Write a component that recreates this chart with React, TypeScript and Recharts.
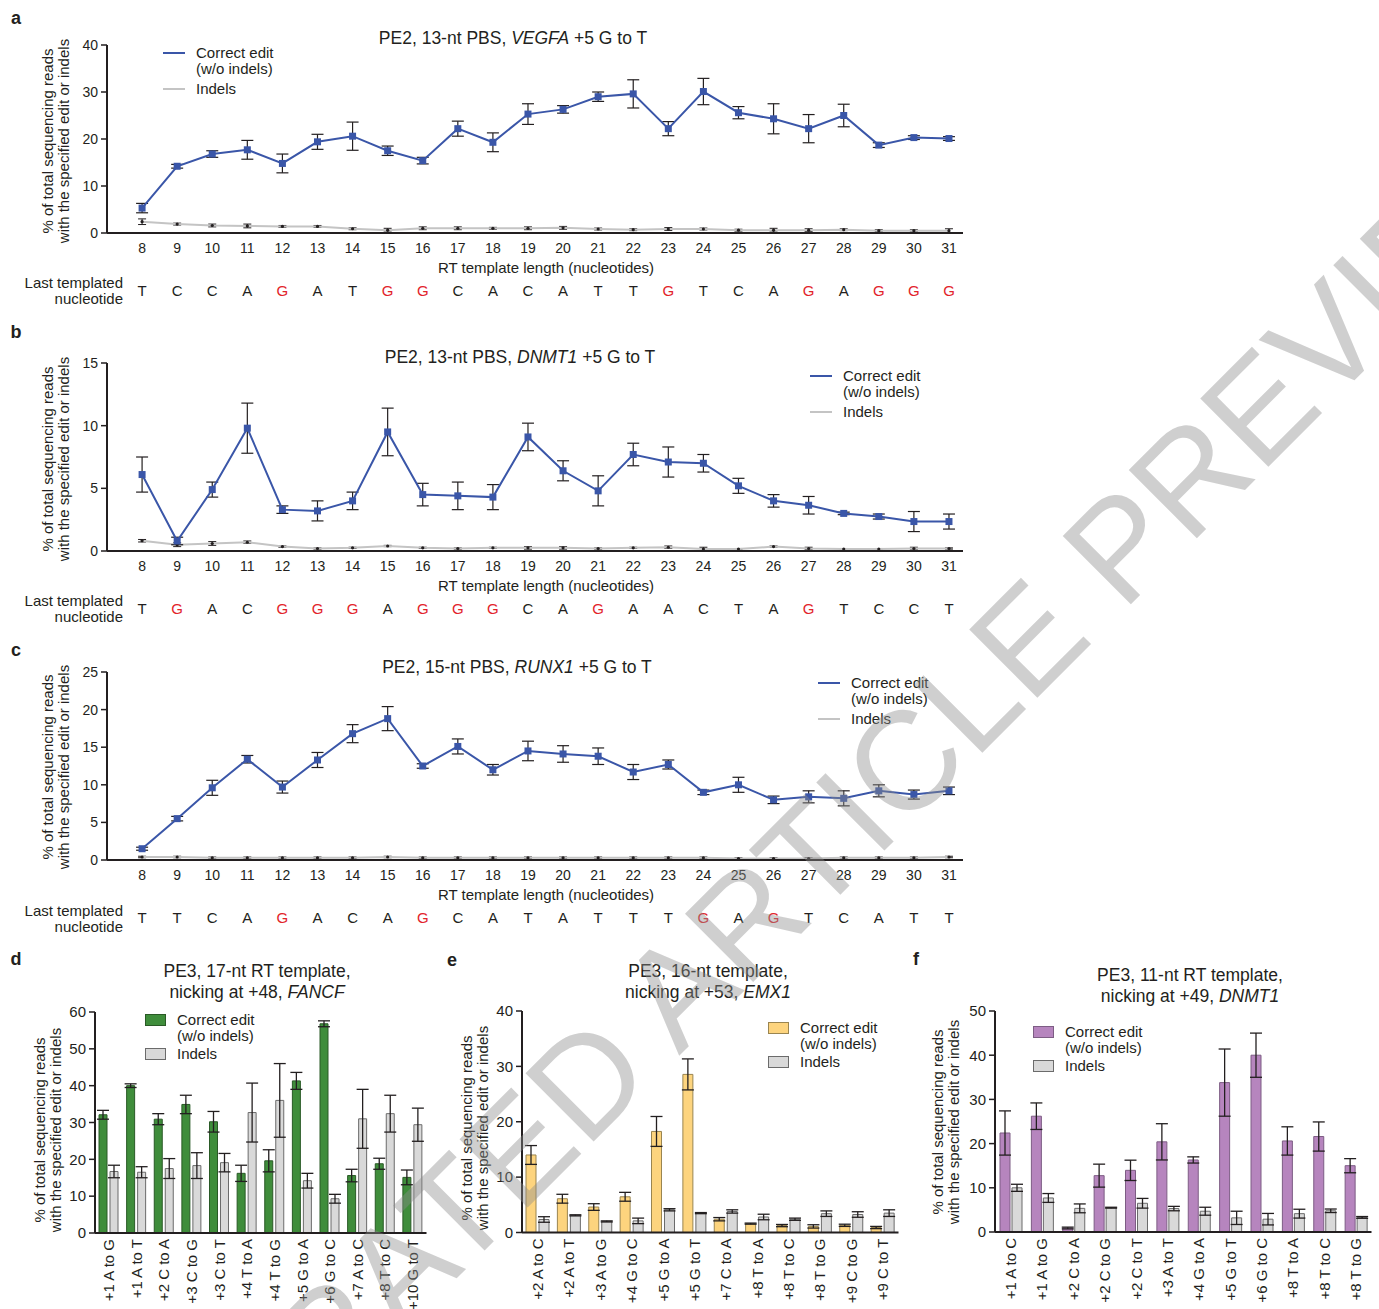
import React from "react"
import { LineChart, Line, XAxis, YAxis, ErrorBar, BarChart, Bar } from "recharts"

const FONT = '"Liberation Sans", Arial, Helvetica, sans-serif'
const INK = "#231f20"
const RED = "#e2232a"
const BLUE = "#3a56a8"
const LIGHT = "#c4c4c4"
const GREY_FILL = "#d9d9d9"
const GREY_EDGE = "#6b6b6b"

// panels a-c share the x axis
const rtLength = [8, 9, 10, 11, 12, 13, 14, 15, 16, 17, 18, 19, 20, 21, 22, 23, 24, 25, 26, 27, 28, 29, 30, 31]

// a: VEGFA
const vegfaEdit = [5.3, 14.2, 16.8, 17.7, 14.8, 19.4, 20.6, 17.5, 15.4, 22.2, 19.3, 25.3, 26.3, 29.0, 29.6, 22.2, 30.1, 25.6, 24.3, 22.2, 25.0, 18.7, 20.3, 20.1]
const vegfaEditSd = [1.0, 0.4, 0.7, 2.0, 2.0, 1.6, 3.0, 1.0, 0.7, 1.6, 2.0, 2.2, 0.8, 1.0, 3.0, 1.5, 2.8, 1.3, 3.2, 3.0, 2.4, 0.5, 0.4, 0.4]
const vegfaIndel = [2.4, 1.9, 1.6, 1.5, 1.4, 1.4, 0.9, 0.6, 1.0, 1.0, 1.0, 1.0, 1.1, 0.85, 0.7, 0.85, 0.85, 0.6, 0.6, 0.6, 0.7, 0.5, 0.5, 0.5]
const vegfaIndelSd = [0.6, 0.2, 0.3, 0.4, 0.2, 0.2, 0.2, 0.4, 0.3, 0.3, 0.2, 0.3, 0.3, 0.2, 0.2, 0.3, 0.2, 0.2, 0.4, 0.3, 0.2, 0.2, 0.2, 0.4]
const vegfaNt = ["T", "C", "C", "A", "G", "A", "T", "G", "G", "C", "A", "C", "A", "T", "T", "G", "T", "C", "A", "G", "A", "G", "G", "G"]

// b: DNMT1
const dnmt1Edit = [6.1, 0.8, 4.9, 9.8, 3.3, 3.2, 4.0, 9.5, 4.5, 4.4, 4.3, 9.1, 6.4, 4.8, 7.7, 7.1, 7.0, 5.2, 4.0, 3.65, 3.0, 2.75, 2.35, 2.35]
const dnmt1EditSd = [1.4, 0.3, 0.6, 2.0, 0.3, 0.8, 0.7, 1.9, 0.9, 1.1, 1.0, 1.1, 0.8, 1.2, 0.9, 1.2, 0.7, 0.6, 0.5, 0.7, 0.1, 0.2, 0.8, 0.6]
const dnmt1Indel = [0.82, 0.5, 0.6, 0.7, 0.35, 0.2, 0.25, 0.4, 0.25, 0.2, 0.25, 0.25, 0.25, 0.2, 0.25, 0.3, 0.15, 0.15, 0.35, 0.2, 0.15, 0.15, 0.2, 0.2]
const dnmt1IndelSd = [0.1, 0.15, 0.15, 0.1, 0.05, 0.05, 0.05, 0.05, 0.05, 0.05, 0.05, 0.1, 0.1, 0.05, 0.05, 0.1, 0.15, 0.05, 0.05, 0.1, 0.05, 0.05, 0.1, 0.05]
const dnmt1Nt = ["T", "G", "A", "C", "G", "G", "G", "A", "G", "G", "G", "C", "A", "G", "A", "A", "C", "T", "A", "G", "T", "C", "C", "T"]

// c: RUNX1
const runx1Edit = [1.5, 5.5, 9.6, 13.4, 9.7, 13.3, 16.8, 18.8, 12.5, 15.1, 12.0, 14.5, 14.1, 13.8, 11.7, 12.7, 9.0, 10.0, 8.0, 8.4, 8.2, 9.2, 8.7, 9.2]
const runx1EditSd = [0.2, 0.3, 1.0, 0.5, 0.8, 1.0, 1.2, 1.6, 0.3, 1.0, 0.7, 1.3, 1.1, 1.1, 1.0, 0.6, 0.3, 1.0, 0.5, 0.8, 1.0, 0.8, 0.6, 0.5]
const runx1Indel = [0.4, 0.4, 0.3, 0.3, 0.3, 0.3, 0.3, 0.4, 0.3, 0.3, 0.3, 0.3, 0.3, 0.3, 0.3, 0.3, 0.3, 0.2, 0.2, 0.2, 0.3, 0.3, 0.3, 0.4]
const runx1IndelSd = [0.1, 0.1, 0.1, 0.1, 0.1, 0.1, 0.1, 0.1, 0.1, 0.1, 0.1, 0.1, 0.1, 0.1, 0.1, 0.1, 0.1, 0.1, 0.1, 0.1, 0.1, 0.1, 0.1, 0.1]
const runx1Nt = ["T", "T", "C", "A", "G", "A", "C", "A", "G", "C", "A", "T", "A", "T", "T", "T", "G", "A", "G", "T", "C", "A", "T", "T"]

// d: FANCF
const fancfCats = ["+1 A to G", "+1 A to T", "+2 C to A", "+3 C to G", "+3 C to T", "+4 T to A", "+4 T to G", "+5 G to A", "+6 G to C", "+7 A to C", "+8 T to C", "+10 G to T"]
const fancfEdit = [32.1, 40.0, 30.9, 34.9, 30.2, 16.2, 19.6, 41.3, 56.8, 15.6, 18.8, 15.1]
const fancfEditSd = [1.2, 0.5, 1.5, 2.5, 2.8, 2.2, 3.0, 2.3, 0.8, 1.7, 1.5, 2.0]
const fancfIndel = [16.7, 16.5, 17.5, 18.3, 19.1, 32.7, 36.0, 14.2, 9.3, 31.0, 32.4, 29.4]
const fancfIndelSd = [1.7, 1.5, 2.7, 3.5, 2.5, 8.0, 10.0, 2.0, 1.2, 8.0, 5.0, 4.5]

// e: EMX1
const emx1Cats = ["+2 A to C", "+2 A to T", "+3 A to G", "+4 G to C", "+5 G to A", "+5 G to T", "+7 C to A", "+8 T to A", "+8 T to C", "+8 T to G", "+9 C to G", "+9 C to T"]
const emx1Edit = [14.0, 6.1, 4.6, 6.45, 18.25, 28.55, 2.4, 1.6, 1.25, 1.1, 1.3, 0.9]
const emx1EditSd = [1.7, 0.8, 0.6, 0.8, 2.7, 2.8, 0.3, 0.1, 0.2, 0.3, 0.2, 0.2]
const emx1Indel = [2.35, 3.1, 2.0, 2.1, 4.1, 3.5, 3.8, 2.8, 2.4, 3.4, 3.25, 3.5]
const emx1IndelSd = [0.5, 0.1, 0.1, 0.5, 0.2, 0.1, 0.3, 0.5, 0.2, 0.5, 0.5, 0.6]

// f: DNMT1 PE3
const dnmt1bCats = ["+1 A to C", "+1 A to G", "+2 C to A", "+2 C to G", "+2 C to T", "+3 A to T", "+4 G to A", "+5 G to T", "+6 G to C", "+8 T to A", "+8 T to C", "+8 T to G"]
const dnmt1bEdit = [22.4, 26.2, 0.9, 12.75, 13.95, 20.4, 16.3, 33.8, 40.0, 20.6, 21.6, 15.0]
const dnmt1bEditSd = [5.0, 3.0, 0.2, 2.6, 2.3, 4.1, 0.7, 7.6, 5.0, 3.2, 3.3, 1.6]
const dnmt1bIndel = [10.0, 7.7, 5.35, 5.5, 6.5, 5.3, 4.7, 3.2, 2.9, 4.15, 4.8, 3.3]
const dnmt1bIndelSd = [0.8, 1.0, 1.0, 0.1, 1.1, 0.5, 0.9, 1.5, 1.3, 1.0, 0.4, 0.2]

const abs = (left: number, top: number): React.CSSProperties => ({ position: "absolute", left, top })

function Centered({ x, y, size = 15, lh, bold, children }: any) {
  return (
    <div style={{ ...abs(x, y), transform: "translate(-50%,-50%)", fontSize: size, lineHeight: lh ? `${lh}px` : "normal", fontWeight: bold ? 700 : 400, whiteSpace: "nowrap", textAlign: "center", color: INK }}>
      {children}
    </div>
  )
}

function YTitle({ x, y }: { x: number; y: number }) {
  return (
    <div style={{ ...abs(x, y), transform: "translate(-50%,-50%) rotate(-90deg)", fontSize: 15, lineHeight: "16px", whiteSpace: "nowrap", textAlign: "center", color: INK }}>
      % of total sequencing reads
      <br />
      with the specified edit or indels
    </div>
  )
}

function LineLegend({ x, y }: { x: number; y: number }) {
  const row = (top: number, text: string, color?: string) => (
    <div style={{ ...abs(0, top - 9), height: 18, lineHeight: "18px", fontSize: 15, whiteSpace: "nowrap", color: INK }}>
      {color && <span style={{ position: "absolute", left: 0, top: 8, width: 22, height: 2, background: color }} />}
      <span style={{ position: "absolute", left: 33 }}>{text}</span>
    </div>
  )
  return (
    <div style={{ ...abs(x, y) }}>
      {row(0, "Correct edit", BLUE)}
      {row(16, "(w/o indels)")}
      {row(36, "Indels", LIGHT)}
    </div>
  )
}

function BarLegend({ x, y, fill, edge }: { x: number; y: number; fill: string; edge: string }) {
  const sw = (top: number, f: string, e: string) => (
    <div style={{ ...abs(0, top - 6), width: 19, height: 10, background: f, border: `1px solid ${e}` }} />
  )
  const tx = (top: number, text: string) => (
    <div style={{ ...abs(32, top - 9), lineHeight: "18px", fontSize: 15, whiteSpace: "nowrap", color: INK }}>{text}</div>
  )
  return (
    <div style={{ ...abs(x, y) }}>
      {sw(0, fill, edge)}
      {tx(0, "Correct edit")}
      {tx(16, "(w/o indels)")}
      {sw(34, GREY_FILL, GREY_EDGE)}
      {tx(34, "Indels")}
    </div>
  )
}

function NtTick(props: any) {
  const { x, y, payload, nt } = props
  const letter = nt[rtLength.indexOf(payload.value)] ?? ""
  return (
    <text x={x} y={y} dy="0.71em" textAnchor="middle" fontSize={15} fill={letter === "G" ? RED : INK}>
      {letter}
    </text>
  )
}

function RotTick(props: any) {
  const { x, y, payload } = props
  return (
    <text x={x} y={y} dy="0.36em" textAnchor="end" fontSize={15} fill={INK} transform={`rotate(-90 ${x} ${y})`}>
      {payload.value}
    </text>
  )
}

const squareDot = (props: any) => {
  const { cx, cy, index } = props
  if (cx == null || cy == null) return <g key={`s${index}`} />
  return <rect key={`s${index}`} x={cx - 3.5} y={cy - 3.5} width={7} height={7} fill={BLUE} />
}

const tinyDot = (props: any) => {
  const { cx, cy, index } = props
  if (cx == null || cy == null) return <g key={`t${index}`} />
  return <circle key={`t${index}`} cx={cx} cy={cy} r={1.6} fill={INK} />
}

function LinePanel(p: any) {
  const data = rtLength.map((x, i) => ({ x, edit: p.edit[i], editSd: p.editSd[i], indel: p.indel[i], indelSd: p.indelSd[i] }))
  const plotL = 107
  const plotR = 963
  const plotH = 188
  const mt = 12
  const ml = 10
  const yw = 40
  const left = plotL - yw - ml
  return (
    <div style={abs(left, p.top - mt)}>
      <LineChart width={plotR - left + 4} height={mt + plotH + 45 + 25 + 2} data={data} margin={{ top: mt, right: 4, bottom: 2, left: ml }}>
        <XAxis
          dataKey="x"
          type="number"
          domain={[7, 31.4]}
          ticks={rtLength}
          allowDataOverflow
          height={45}
          tickSize={0}
          tickMargin={10}
          tickLine={false}
          axisLine={{ stroke: INK, strokeWidth: 2 }}
          tick={{ fontSize: 14, fill: INK }}
          label={{ value: "RT template length (nucleotides)", position: "insideBottom", offset: 5, dx: 11, fontSize: 15, fill: INK }}
        />
        <XAxis
          xAxisId="nt"
          dataKey="x"
          type="number"
          domain={[7, 31.4]}
          ticks={rtLength}
          allowDataOverflow
          height={25}
          tickSize={0}
          tickMargin={7}
          tickLine={false}
          axisLine={false}
          tick={<NtTick nt={p.nt} />}
        />
        <YAxis
          width={yw}
          domain={[0, p.yMax]}
          ticks={p.yTicks}
          allowDataOverflow
          tickSize={6}
          tickMargin={3}
          axisLine={{ stroke: INK, strokeWidth: 2 }}
          tickLine={{ stroke: INK, strokeWidth: 1.5 }}
          tick={{ fontSize: 14, fill: INK }}
        />
        <Line dataKey="indel" stroke={LIGHT} strokeWidth={2} dot={tinyDot} isAnimationActive={false}>
          <ErrorBar dataKey="indelSd" width={4} stroke={INK} strokeWidth={1} />
        </Line>
        <Line dataKey="edit" stroke={BLUE} strokeWidth={2} dot={squareDot} isAnimationActive={false}>
          <ErrorBar dataKey="editSd" width={6} stroke={INK} strokeWidth={1.2} />
        </Line>
      </LineChart>
    </div>
  )
}

function BarPanel(p: any) {
  const data = p.cats.map((c: string, i: number) => ({ c, edit: p.edit[i], editSd: p.editSd[i], indel: p.indel[i], indelSd: p.indelSd[i] }))
  const mt = 12
  const ml = 6
  const yw = 40
  const xh = 78
  const left = p.plotL - yw - ml
  return (
    <div style={abs(left, p.plotT - mt)}>
      <BarChart
        width={p.plotR - left + 2}
        height={mt + (p.plotB - p.plotT) + xh}
        data={data}
        margin={{ top: mt, right: 2, bottom: 0, left: ml }}
        barGap={p.barGap}
      >
        <XAxis dataKey="c" interval={0} height={xh} tickSize={0} tickMargin={6} tickLine={false} axisLine={{ stroke: INK, strokeWidth: 2 }} tick={<RotTick />} />
        <YAxis
          width={yw}
          domain={[0, p.yMax]}
          ticks={p.yTicks}
          allowDataOverflow
          tickSize={6}
          tickMargin={3}
          axisLine={{ stroke: INK, strokeWidth: 2 }}
          tickLine={{ stroke: INK, strokeWidth: 1.5 }}
          tick={{ fontSize: 15, fill: INK }}
        />
        <Bar dataKey="edit" fill={p.fill} stroke={p.edge} strokeWidth={1} barSize={p.barSize} isAnimationActive={false}>
          <ErrorBar dataKey="editSd" width={6} stroke={INK} strokeWidth={1.3} />
        </Bar>
        <Bar dataKey="indel" fill={GREY_FILL} stroke={GREY_EDGE} strokeWidth={1} barSize={p.barSize} isAnimationActive={false}>
          <ErrorBar dataKey="indelSd" width={6} stroke={INK} strokeWidth={1.3} />
        </Bar>
      </BarChart>
    </div>
  )
}

function NtLabel({ y }: { y: number }) {
  return (
    <div style={{ ...abs(0, y - 16), width: 123, textAlign: "right", fontSize: 15, lineHeight: "16px", color: INK }}>
      Last templated
      <br />
      nucleotide
    </div>
  )
}

export default function App() {
  return (
    <div style={{ position: "absolute", left: 0, top: 0, width: 1379, height: 1309, overflow: "hidden", background: "#fff", fontFamily: FONT, color: INK }}>
      {/* a */}
      <Centered x={16} y={18} size={18} bold>a</Centered>
      <Centered x={513} y={38} size={17.5}>
        PE2, 13-nt PBS, <i>VEGFA</i> +5 G to T
      </Centered>
      <YTitle x={56} y={141} />
      <LinePanel top={45} yMax={40} yTicks={[0, 10, 20, 30, 40]} edit={vegfaEdit} editSd={vegfaEditSd} indel={vegfaIndel} indelSd={vegfaIndelSd} nt={vegfaNt} />
      <LineLegend x={163} y={53} />
      <NtLabel y={291} />

      {/* b */}
      <Centered x={16} y={332} size={18} bold>b</Centered>
      <Centered x={520} y={357} size={17.5}>
        PE2, 13-nt PBS, <i>DNMT1</i> +5 G to T
      </Centered>
      <YTitle x={56} y={459} />
      <LinePanel top={363} yMax={15} yTicks={[0, 5, 10, 15]} edit={dnmt1Edit} editSd={dnmt1EditSd} indel={dnmt1Indel} indelSd={dnmt1IndelSd} nt={dnmt1Nt} />
      <LineLegend x={810} y={376} />
      <NtLabel y={609} />

      {/* c */}
      <Centered x={16} y={650} size={18} bold>c</Centered>
      <Centered x={517} y={667} size={17.5}>
        PE2, 15-nt PBS, <i>RUNX1</i> +5 G to T
      </Centered>
      <YTitle x={56} y={767} />
      <LinePanel top={672} yMax={25} yTicks={[0, 5, 10, 15, 20, 25]} edit={runx1Edit} editSd={runx1EditSd} indel={runx1Indel} indelSd={runx1IndelSd} nt={runx1Nt} />
      <LineLegend x={818} y={683} />
      <NtLabel y={919} />

      {/* d */}
      <Centered x={16} y={959} size={18} bold>d</Centered>
      <Centered x={257} y={982} size={17.5} lh={21}>
        PE3, 17-nt RT template,
        <br />
        nicking at +48, <i>FANCF</i>
      </Centered>
      <YTitle x={48} y={1130} />
      <BarPanel plotL={94.5} plotR={426} plotT={1012} plotB={1233} yMax={60} yTicks={[0, 10, 20, 30, 40, 50, 60]} cats={fancfCats} edit={fancfEdit} editSd={fancfEditSd} indel={fancfIndel} indelSd={fancfIndelSd} fill="#3f8d3b" edge="#2a5a26" barSize={8} barGap={3} />
      <BarLegend x={145} y={1020} fill="#3f8d3b" edge="#2a5a26" />

      {/* e */}
      <Centered x={452} y={960} size={18} bold>e</Centered>
      <Centered x={708} y={982} size={17.5} lh={21}>
        PE3, 16-nt template,
        <br />
        nicking at +53, <i>EMX1</i>
      </Centered>
      <YTitle x={475} y={1128} />
      <BarPanel plotL={521.5} plotR={898} plotT={1011} plotB={1232.5} yMax={40} yTicks={[0, 10, 20, 30, 40]} cats={emx1Cats} edit={emx1Edit} editSd={emx1EditSd} indel={emx1Indel} indelSd={emx1IndelSd} fill="#fdd47e" edge="#9a8550" barSize={10} barGap={3} />
      <BarLegend x={768} y={1028} fill="#fdd47e" edge="#9a8550" />

      {/* f */}
      <Centered x={916} y={959} size={18} bold>f</Centered>
      <Centered x={1190} y={986} size={17.5} lh={21}>
        PE3, 11-nt RT template,
        <br />
        nicking at +49, <i>DNMT1</i>
      </Centered>
      <YTitle x={946} y={1122} />
      <BarPanel plotL={994.5} plotR={1371} plotT={1011} plotB={1232} yMax={50} yTicks={[0, 10, 20, 30, 40, 50]} cats={dnmt1bCats} edit={dnmt1bEdit} editSd={dnmt1bEditSd} indel={dnmt1bIndel} indelSd={dnmt1bIndelSd} fill="#b685be" edge="#7d5d84" barSize={10} barGap={2} />
      <BarLegend x={1033} y={1032} fill="#b685be" edge="#7d5d84" />

      {/* watermark */}
      <div
        style={{
          ...abs(722, 945),
          transform: "translate(-50%,-50%) rotate(-45deg)",
          fontSize: 140,
          whiteSpace: "nowrap",
          color: "rgba(140,140,140,0.42)",
          pointerEvents: "none",
          lineHeight: 1,
        }}
      >
        ACCELERATED ARTICLE PREVIEW
      </div>
    </div>
  )
}
